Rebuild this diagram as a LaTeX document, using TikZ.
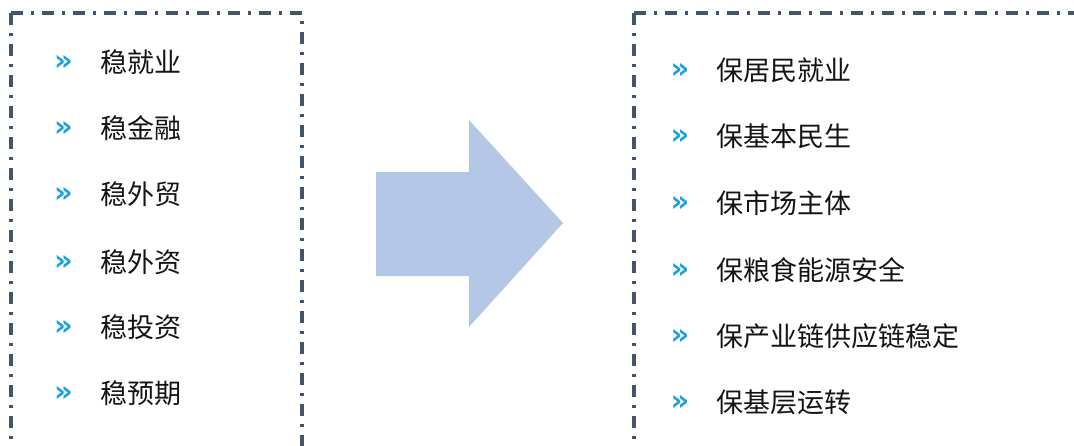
\documentclass[tikz,border=0pt]{standalone}
\usepackage{fontspec}
\newfontfamily\cjk{Noto Sans CJK SC}
\newfontfamily\bulletfont{DejaVu Sans}
\definecolor{frameclr}{HTML}{44546A}
\definecolor{bulletclr}{HTML}{1DA1DF}
\definecolor{arrowclr}{HTML}{B4C7E7}
\definecolor{textclr}{HTML}{141414}
\begin{document}
\begin{tikzpicture}[x=1pt,y=-1pt,
  frame/.style={draw=frameclr,line width=3.6pt,dash pattern=on 12pt off 8pt on 3pt off 8pt},
  bulletmark/.style={inner sep=0pt,text=bulletclr,font=\bulletfont\bfseries\fontsize{29}{29}\selectfont},
  itemtext/.style={inner sep=0pt,anchor=base west,text=textclr,font=\cjk\fontsize{27}{30}\selectfont},
  bigarrow/.style={fill=arrowclr,draw=none}]
\useasboundingbox (0,0) rectangle (1074,445);
% frames
\coordinate (ltl) at (11,13);
\coordinate (ltr) at (302,13);
\coordinate (lbl) at (11,450);
\coordinate (lbr) at (302,450);
\coordinate (rtl) at (634,13);
\coordinate (rbl) at (634,450);
\coordinate (rtr) at (1090,13);
\draw[frame] (ltl) -- (lbl);
\draw[frame] (ltl) -- (ltr) -- (lbr);
\draw[frame] (rtl) -- (rbl);
\draw[frame] (rtl) -- (rtr);
% arrow
\path[bigarrow] (376,172) -- (469,172) -- (469,120) -- (563,223) -- (469,327) -- (469,276) -- (376,276) -- cycle;
% left items
\foreach \t/\y [count=\i] in {稳就业/62,稳金融/128,稳外贸/194,稳外资/262,稳投资/327,稳预期/393}{
  \node[bulletmark] (lb\i) at (63.5,\y+1) {»};
  \node[itemtext] (lt\i) at (100,\y+10) {\t};
}
% right items
\foreach \t/\y [count=\i] in {保居民就业/70,保基本民生/136,保市场主体/203,保粮食能源安全/270,保产业链供应链稳定/336,保基层运转/402}{
  \node[bulletmark] (rb\i) at (680,\y+1) {»};
  \node[itemtext] (rt\i) at (716,\y+10) {\t};
}
\end{tikzpicture}
\end{document}
